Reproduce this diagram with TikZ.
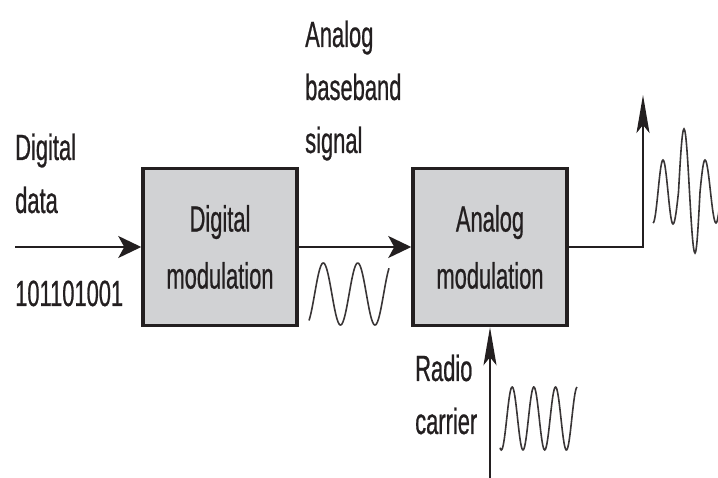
\documentclass[tikz,border=0pt]{standalone}
\usepackage{fontspec}
\setmainfont[FakeStretch=0.6,FakeBold=0.6]{Liberation Sans}
\usetikzlibrary{arrows.meta}
\definecolor{boxgray}{HTML}{D1D2D4}
\definecolor{ink}{HTML}{231F20}
\begin{document}
\begin{tikzpicture}[x=1pt,y=-1pt,
  lbl/.style={anchor=base west,inner sep=0pt,text=ink,font=\fontsize{36.5}{52}\selectfont},
  blk/.style={draw=ink,line width=3.5pt,fill=boxgray,minimum width=154pt,minimum height=157pt,
    inner sep=0pt,align=center,text=ink,font=\fontsize{36.5}{57}\selectfont},
  conn/.style={draw=ink,line width=2pt},
  harr/.style={-{Stealth[length=23pt,width=22pt,inset=6pt]}},
  varr/.style={-{Stealth[length=38pt,width=13pt,inset=8pt]}},
  wave/.style={draw=ink!90,line width=1.6pt}]
\useasboundingbox (0,0) rectangle (718,478);
% boxes
\node[blk] (dm) at (220,247) {Digital\\modulation};
\node[blk] (am) at (490,247) {Analog\\modulation};
% labels
\node[lbl] (l1) at (15,160) {Digital};
\node[lbl] (l2) at (15,213) {data};
\node[lbl] (l3) at (15,306) {101101001};
\node[lbl] (l4) at (305,47) {Analog};
\node[lbl] (l5) at (305,100) {baseband};
\node[lbl] (l6) at (305,153) {signal};
\node[lbl] (l7) at (415,381) {Radio};
\node[lbl] (l8) at (415,434) {carrier};
% connectors
\coordinate (in) at (15,247);
\coordinate (out) at (643,95);
\coordinate (rc) at (490,478);
\draw[conn,harr] (in) -- (dm.west);
\draw[conn,harr] (dm.east) -- (am.west);
\draw[conn,varr] (am.east) -| (out);
\draw[conn,varr] (rc) -- (am.south);
% waves
\draw[wave] plot[domain=309:389,samples=120,smooth] (\x,{294+31*cos(10.4348*(\x-306))});
\draw[wave] plot[domain=500:577,samples=120,smooth] (\x,{418.5+31.5*cos(16.59*(\x-523))});
\draw[wave] (653,223) cos (658,192) sin (663,160) cos (668,192) sin (673,224)
  cos (678.5,192) sin (684,129) cos (689.5,192) sin (695,253)
  cos (700,192) sin (705,160) cos (710.5,192) sin (716,223) cos (721,192);
\end{tikzpicture}
\end{document}
